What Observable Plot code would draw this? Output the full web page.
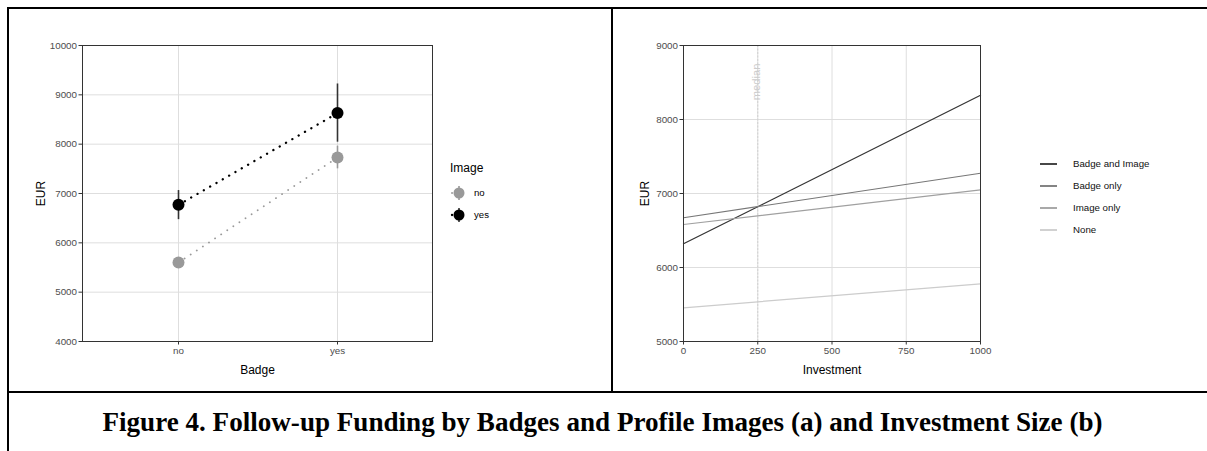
<!DOCTYPE html>
<html>
<head>
<meta charset="utf-8">
<script src="https://cdn.jsdelivr.net/npm/d3@7"></script>
<script src="https://cdn.jsdelivr.net/npm/@observablehq/plot@0.6"></script>
<style>
body { margin: 0; background: #fff; }
#page { position: relative; width: 1207px; height: 451px; overflow: hidden; background: #fff;
  font-family: "Liberation Sans", Arial, sans-serif; }
.bl { position: absolute; background: #000; }
.panel { position: absolute; top: 0; }
.panel svg { overflow: visible; }
.panel [aria-label$="axis label"] text { font-size: 12px; fill: #000; }
#caption { position: absolute; left: 0; width: 1205px; top: 406px; text-align: center; line-height: 32px;
  font-family: "Liberation Serif", "Times New Roman", serif; font-weight: bold; font-size: 27.1px; color: #000; }
.legend { position: absolute; overflow: visible; }
</style>
</head>
<body>
<div id="page">
  <div class="bl" style="left:7px;top:7px;width:1200px;height:2px"></div>
  <div class="bl" style="left:7px;top:7px;width:2px;height:444px"></div>
  <div class="bl" style="left:611px;top:7px;width:2px;height:386px"></div>
  <div class="bl" style="left:7px;top:391px;width:1200px;height:2px"></div>
  <div id="left" class="panel" style="left:0px"></div>
  <div id="right" class="panel" style="left:613px"></div>
  <div id="caption"></div>
</div>
<script>
// ---------- Panel (a) data ----------
const badgeLevels = ["no", "yes"];
const imageLevels = ["no", "yes"];
const meanImageNo  = [5600, 7730];
const lowImageNo   = [5540, 7500];
const highImageNo  = [5660, 7960];
const meanImageYes = [6770, 8630];
const lowImageYes  = [6470, 8040];
const highImageYes = [7060, 9220];
const eurTicksA = [4000, 5000, 6000, 7000, 8000, 9000, 10000];

// ---------- Panel (b) data ----------
const groups = ["Badge and Image", "Badge only", "Image only", "None"];
const eurAt0    = [6320, 6672, 6581, 5455];
const eurAt1000 = [8327, 7274, 7050, 5780];
const investmentEnds = [0, 1000];
const investmentTicks = [0, 250, 500, 750, 1000];
const eurTicksB = [5000, 6000, 7000, 8000, 9000];
const medianInvestment = 250;

const captionText = "Figure 4. Follow-up Funding by Badges and Profile Images (a) and Investment Size (b)";

// ---------- styles ----------
const imageColors = ["#999999", "#000000"];
const imageBarColors = ["#999999", "#333333"];
const groupColors = ["#333333", "#777777", "#a0a0a0", "#cccccc"];
const font = "Liberation Sans, Arial, sans-serif";

// Build tables
const tableA = [];
imageLevels.forEach((img, gi) => {
  const mean = gi === 0 ? meanImageNo : meanImageYes;
  const low = gi === 0 ? lowImageNo : lowImageYes;
  const high = gi === 0 ? highImageNo : highImageYes;
  badgeLevels.forEach((b, i) => tableA.push({image: img, badge: b, mean: mean[i], low: low[i], high: high[i]}));
});
const tableB = [];
groups.forEach((g, i) => {
  tableB.push({group: g, inv: investmentEnds[0], eur: eurAt0[i]});
  tableB.push({group: g, inv: investmentEnds[1], eur: eurAt1000[i]});
});

const fmt = d => String(d);
const axisStyle = {tickSize: 3.5, tickPadding: 2, stroke: "#333", fill: "#4d4d4d", fontSize: 9.8, labelArrow: "none"};
const dotStyleNo = {stroke: imageColors[0], strokeWidth: 1.8, strokeDasharray: "0.1,7.2", strokeLinecap: "round"};
const dotStyleYes = {stroke: imageColors[1], strokeWidth: 2.3, strokeDasharray: "0.1,7.2", strokeLinecap: "round"};

// ---------- Panel (a) ----------
const plotA = Plot.plot({
  width: 611, height: 390,
  marginLeft: 82, marginRight: 179, marginTop: 45, marginBottom: 49,
  style: {fontFamily: font, background: "transparent", overflow: "visible"},
  x: {type: "point", domain: badgeLevels, padding: 0.6},
  y: {domain: [4000, 10000]},
  marks: [
    Plot.gridX(badgeLevels, {stroke: "#dedede", strokeOpacity: 1}),
    Plot.gridY(eurTicksA, {stroke: "#dedede", strokeOpacity: 1}),
    Plot.line(tableA.filter(d => d.image === "no"), {x: "badge", y: "mean", ...dotStyleNo}),
    Plot.line(tableA.filter(d => d.image === "yes"), {x: "badge", y: "mean", ...dotStyleYes}),
    Plot.ruleX(tableA, {x: "badge", y1: "low", y2: "high", stroke: d => imageBarColors[imageLevels.indexOf(d.image)], strokeWidth: 1.6}),
    Plot.dot(tableA, {x: "badge", y: "mean", r: 6, fill: d => imageColors[imageLevels.indexOf(d.image)], stroke: "none"}),
    Plot.frame({stroke: "#333", strokeWidth: 1}),
    Plot.axisX({...axisStyle, label: "Badge", labelAnchor: "center", labelOffset: 32}),
    Plot.axisY(eurTicksA, {...axisStyle, tickFormat: fmt, label: "EUR", labelAnchor: "center", labelOffset: 46})
  ]
});
document.getElementById("left").appendChild(plotA);

// ---------- Panel (b) ----------
const plotB = Plot.plot({
  width: 594, height: 390,
  marginLeft: 70, marginRight: 227, marginTop: 45, marginBottom: 49,
  style: {fontFamily: font, background: "transparent", overflow: "visible"},
  x: {domain: [0, 1000]},
  y: {domain: [5000, 9000]},
  marks: [
    Plot.gridX(investmentTicks, {stroke: "#dedede", strokeOpacity: 1}),
    Plot.gridY(eurTicksB, {stroke: "#dedede", strokeOpacity: 1}),
    Plot.ruleX([medianInvestment], {stroke: "#d0d0d0", strokeDasharray: "2,1.5", strokeWidth: 1}),
    Plot.text([medianInvestment], {x: d => d, frameAnchor: "top", dy: 18, dx: -6, rotate: -90, textAnchor: "end",
      text: () => "median", fill: "#cccccc", fontSize: 11.2}),
    Plot.line(tableB, {x: "inv", y: "eur", z: "group", stroke: d => groupColors[groups.indexOf(d.group)], strokeWidth: 1.2}),
    Plot.frame({stroke: "#333", strokeWidth: 1}),
    Plot.axisX(investmentTicks, {...axisStyle, tickFormat: fmt, label: "Investment", labelAnchor: "center", labelOffset: 32}),
    Plot.axisY(eurTicksB, {...axisStyle, tickFormat: fmt, label: "EUR", labelAnchor: "center", labelOffset: 43})
  ]
});
document.getElementById("right").appendChild(plotB);

// ---------- Legend (a) ----------
const page = d3.select("#page");
const legA = page.append("svg").attr("class", "legend")
  .style("left", "440px").style("top", "150px").attr("width", 120).attr("height", 80)
  .style("font-family", font);
legA.append("text").attr("x", 10).attr("y", 22).attr("font-size", 12).attr("fill", "#000").text("Image");
imageLevels.forEach((lvl, i) => {
  const st = i ? dotStyleYes : dotStyleNo;
  const g = legA.append("g").attr("transform", `translate(19,${43 + i * 22})`);
  g.append("line").attr("x1", -7).attr("x2", 7).attr("stroke", st.stroke)
    .attr("stroke-width", st.strokeWidth).attr("stroke-dasharray", "0.1,3.4").attr("stroke-linecap", "round");
  g.append("line").attr("y1", -7).attr("y2", 7).attr("stroke", imageBarColors[i]).attr("stroke-width", 1.6);
  g.append("circle").attr("r", 5.5).attr("fill", imageColors[i]);
  g.append("text").attr("x", 15).attr("dy", "0.35em").attr("font-size", 9.6).attr("fill", "#000").text(lvl);
});

// ---------- Legend (b) ----------
const legB = page.append("svg").attr("class", "legend")
  .style("left", "1030px").style("top", "150px").attr("width", 170).attr("height", 100)
  .style("font-family", font);
groups.forEach((g, i) => {
  const row = legB.append("g").attr("transform", `translate(0,${14 + i * 22})`);
  row.append("line").attr("x1", 10).attr("x2", 27).attr("stroke", groupColors[i]).attr("stroke-width", 1.8);
  row.append("text").attr("x", 43).attr("dy", "0.35em").attr("font-size", 9.7).attr("fill", "#111").text(g);
});

document.getElementById("caption").textContent = captionText;
</script>
</body>
</html>
